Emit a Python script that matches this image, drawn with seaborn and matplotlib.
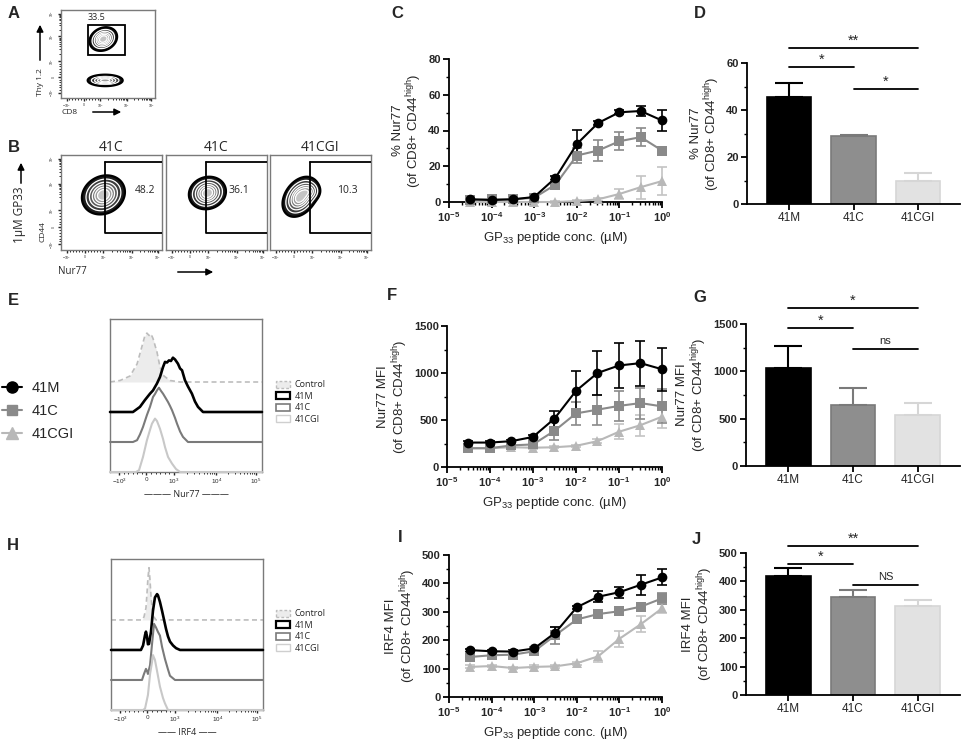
import numpy as np
import pandas as pd
import matplotlib
matplotlib.use("Agg")
from matplotlib import pyplot as plt
from matplotlib.lines import Line2D
from matplotlib.patches import Patch, Rectangle

import seaborn as sns

W, H = 963, 740

groups = ["41M", "41C", "41CGI"]
conc = [3.16e-5, 1e-4, 3.16e-4, 1e-3, 3.16e-3, 1e-2, 3.16e-2, 1e-1, 3.16e-1, 1.0]
decade_ticks = [1e-5, 1e-4, 1e-3, 1e-2, 1e-1, 1e0]
decade_labels = [r"$\mathbf{10^{-5}}$", r"$\mathbf{10^{-4}}$", r"$\mathbf{10^{-3}}$",
                 r"$\mathbf{10^{-2}}$", r"$\mathbf{10^{-1}}$", r"$\mathbf{10^{0}}$"]

# C: % Nur77 of CD8+ CD44high
pct_41m = [1.5, 1.1, 1.5, 2.8, 13.5, 32.4, 44.2, 50.2, 50.9, 45.6]
pct_41m_sd = [0.5, 0.5, 0.5, 0.8, 1.0, 8.0, 1.0, 1.0, 3.0, 6.0]
pct_41c = [1.3, 1.5, 1.5, 2.4, 9.7, 26.0, 28.8, 34.0, 36.3, 28.8]
pct_41c_sd = [0.5, 0.5, 0.5, 0.5, 1.5, 4.0, 6.0, 5.0, 5.0, 1.0]
pct_41cgi = [0, 0, 0, 0, 0, 0.5, 1.5, 4.5, 8.3, 11.7]
pct_41cgi_sd = [0.3, 0.3, 0.3, 0.3, 0.3, 0.5, 1.0, 3.0, 6.5, 8.0]

# F: Nur77 MFI
nur_41m = [260, 260, 275, 320, 515, 810, 1000, 1080, 1105, 1040]
nur_41m_sd = [15, 15, 15, 20, 85, 215, 235, 235, 240, 230]
nur_41c = [200, 200, 230, 240, 385, 570, 610, 650, 680, 645]
nur_41c_sd = [10, 10, 10, 15, 100, 125, 160, 160, 165, 180]
nur_41cgi = [200, 200, 210, 205, 210, 225, 275, 375, 445, 535]
nur_41cgi_sd = [10, 10, 10, 10, 10, 10, 20, 80, 110, 120]

# I: IRF4 MFI
irf_41m = [165, 161, 160, 171, 227, 316, 353, 369, 395, 421]
irf_41m_sd = [5, 5, 5, 5, 20, 5, 20, 20, 35, 28]
irf_41c = [141, 147, 149, 161, 218, 273, 292, 302, 318, 347]
irf_41c_sd = [5, 5, 5, 5, 30, 8, 8, 8, 10, 20]
irf_41cgi = [106, 109, 102, 106, 108, 119, 143, 205, 256, 312]
irf_41cgi_sd = [5, 5, 5, 5, 5, 5, 20, 28, 28, 15]

# bar panels D, G, J (mean, upper error)
bar_pct = [45.5, 28.8, 10.0]
bar_pct_err = [6.0, 0.4, 3.3]
bar_nur = [1035, 640, 535]
bar_nur_err = [235, 185, 130]
bar_irf = [418, 346, 315]
bar_irf_err = [30, 23, 20]

# significance brackets: (from, to, height, label)
sig_pct = [(0, 2, 66.5, "**"), (0, 1, 58.3, "*"), (1, 2, 49.0, "*")]
sig_nur = [(0, 2, 1670, "*"), (0, 1, 1458, "*"), (1, 2, 1235, "ns")]
sig_irf = [(0, 2, 526, "**"), (0, 1, 461, "*"), (1, 2, 387, "NS")]

# histogram traces (E: Nur77, H: IRF4), x on 0-100 display scale, height per lane
e_ctrl_x = [0, 6.6, 13.2, 17.8, 21.1, 23.0, 24.3, 25.7, 27.0, 28.3, 30.9, 32.9, 35.5, 39.5, 46.1, 100]
e_ctrl_h = [0, 0.05, 0.2, 0.6, 1.2, 1.55, 1.63, 1.55, 1.6, 1.45, 1.0, 0.5, 0.2, 0.05, 0, 0]
e_41m_x = [0, 15.1, 19.7, 23.0, 26.3, 28.3, 30.9, 32.9, 34.9, 36.2, 37.5, 38.8, 40.1, 41.4,
           42.8, 44.7, 46.1, 47.4, 49.3, 51.3, 53.9, 55.9, 57.9, 61.2, 100]
e_41m_h = [0, 0, 0.17, 0.4, 0.61, 0.72, 0.95, 1.17, 1.5, 1.67, 1.65, 1.72, 1.7, 1.81,
           1.75, 1.61, 1.45, 1.39, 1.06, 0.85, 0.61, 0.35, 0.17, 0, 0]
e_41c_x = [0, 15.1, 17.8, 19.7, 21.7, 24.3, 26.3, 28.3, 29.6, 30.9, 32.2, 33.6, 34.9, 36.2,
           38.2, 39.5, 40.8, 42.8, 44.1, 46.1, 48.0, 51.3, 100]
e_41c_h = [0, 0, 0.06, 0.25, 0.5, 0.9, 1.17, 1.5, 1.6, 1.72, 1.81, 1.7, 1.61, 1.5,
           1.33, 1.2, 1.06, 0.8, 0.61, 0.35, 0.17, 0, 0]
e_41cgi_x = [0, 17.1, 19.1, 21.7, 24.3, 26.3, 27.6, 29.6, 30.9, 32.9, 34.9, 36.2, 38.2, 40.8, 43.4, 46.1, 100]
e_41cgi_h = [0, 0, 0.06, 0.5, 1.06, 1.4, 1.61, 1.78, 1.7, 1.44, 1.1, 0.83, 0.5, 0.28, 0.1, 0, 0]

h_ctrl_x = [0, 20.4, 21.7, 23.0, 23.7, 24.3, 25.0, 25.7, 26.3, 27.0, 28.3, 29.6, 100]
h_ctrl_h = [0, 0, 0.1, 0.4, 0.9, 1.4, 1.74, 1.3, 0.8, 0.4, 0.1, 0, 0]
h_41m_x = [0, 19.7, 21.1, 22.4, 23.0, 23.7, 24.3, 25.0, 26.3, 27.6, 28.9, 30.3, 30.9, 32.2,
           33.6, 34.9, 36.2, 37.5, 38.8, 40.8, 42.8, 45.4, 100]
h_41m_h = [0, 0, 0.15, 0.5, 0.61, 0.45, 0.19, 0.2, 0.6, 1.3, 1.75, 1.86, 1.82, 1.6,
           1.3, 1.0, 0.7, 0.45, 0.28, 0.15, 0.06, 0, 0]
h_41c_x = [0, 20.4, 21.7, 23.0, 23.7, 24.3, 25.7, 27.0, 28.3, 29.6, 30.9, 32.2, 33.6, 35.5, 37.5, 38.8, 42.1, 100]
h_41c_h = [0, 0, 0.2, 0.37, 0.3, 0.2, 0.5, 1.2, 1.87, 1.75, 1.6, 1.48, 1.1, 0.7, 0.35, 0.14, 0, 0]
h_41cgi_x = [0, 21.1, 22.4, 24.3, 25.7, 27.0, 27.6, 28.9, 30.3, 32.2, 34.2, 35.5, 37.5, 100]
h_41cgi_h = [0, 0, 0.05, 0.5, 1.2, 1.6, 1.83, 1.67, 1.3, 0.78, 0.4, 0.22, 0, 0]

flow_tick_pos = [6, 24, 42, 70, 96]
flow_tick_labels = [r"$-10^3$", "0", r"$10^3$", r"$10^4$", r"$10^5$"]

# contour populations: centre x, centre y, sd x, sd y, correlation, weight
pops_a = [(45, 67, 6.0, 5.5, 0.2, 1.0), (47, 20, 8.0, 2.8, 0.0, 0.75)]
pops_b = [
    [(42, 58, 8.7, 8.4, 0.15, 1.0)],
    [(41, 60, 7.5, 7.0, 0.1, 1.0)],
    [(30, 56, 7.2, 8.6, 0.35, 1.0), (40, 62, 4.5, 4.5, 0.0, 0.3)],
]
b_titles = ["41C", "41C", "41CGI"]
b_gate_x = [44, 40, 40]
b_gate_pct = ["48.2", "36.1", "10.3"]
b_pct_x = [73, 62, 66]

line_colors = {"41M": "#000000", "41C": "#8a8a8a", "41CGI": "#b8b8b8"}
err_colors = {"41M": "#000000", "41C": "#8a8a8a", "41CGI": "#c4c4c4"}
bar_face = ["#000000", "#8e8e8e", "#e2e2e2"]
bar_edge = ["#000000", "#7a7a7a", "#d6d6d6"]
hist_colors = {"41M": "#000000", "41C": "#7a7a7a", "41CGI": "#c8c8c8"}

sns.set_style("ticks")
plt.rcParams["font.family"] = ["Liberation Sans", "DejaVu Sans"]
plt.rcParams["mathtext.fontset"] = "custom"
plt.rcParams["mathtext.rm"] = "Liberation Sans"
plt.rcParams["mathtext.it"] = "Liberation Sans:italic"
plt.rcParams["mathtext.bf"] = "Liberation Sans:bold"

FLOW_FONT = ["Open Sans", "DejaVu Sans"]

fig = plt.figure(figsize=(W / 100, H / 100), dpi=100)


def px_axes(left, top, right, bottom):
    return fig.add_axes([left / W, 1 - bottom / H, (right - left) / W, (bottom - top) / H])


def ftext(x, y, s, **kw):
    return fig.text(x / W, 1 - y / H, s, **kw)


def farrow(x0, y0, x1, y1):
    fig.add_artist(matplotlib.patches.FancyArrowPatch(
        (x0 / W, 1 - y0 / H), (x1 / W, 1 - y1 / H), transform=fig.transFigure,
        arrowstyle="-|>,head_length=4,head_width=2", lw=1.1, color="black"))


def prism_style(ax):
    sns.despine(ax=ax)
    for s in ["left", "bottom"]:
        ax.spines[s].set_linewidth(1.3)
        ax.spines[s].set_color("black")
    ax.tick_params(axis="both", which="major", direction="out", length=4, width=1.3,
                   labelsize=8, color="black", pad=2)
    ax.tick_params(axis="both", which="minor", direction="out", length=2.5, width=1.0, color="black")
    ax.set_facecolor("white")


def bold_ticks(ax):
    for lab in ax.get_yticklabels():
        lab.set_fontweight("bold")


def dose_panel(ax, means, sds, ymax, ystep, yminor, ylabel):
    rows = []
    for g in groups:
        for c, v in zip(conc, means[g]):
            rows.append({"conc": c, "value": v, "group": g})
    df = pd.DataFrame(rows)
    ax.set_xscale("log")
    for g in reversed(groups):
        ax.errorbar(conc, means[g], yerr=sds[g], fmt="none", ecolor=err_colors[g],
                    elinewidth=1.2, capsize=3.5, capthick=1.2, zorder=2, clip_on=False)
    sns.lineplot(data=df, x="conc", y="value", hue="group", style="group",
                 hue_order=groups[::-1], style_order=groups[::-1],
                 markers={"41M": "o", "41C": "s", "41CGI": "^"}, dashes=False,
                 palette=line_colors, markersize=7, markeredgewidth=0, lw=1.5,
                 errorbar=None, legend=False, ax=ax, zorder=3)
    for ln in ax.lines:
        ln.set_clip_on(False)
    ax.set_xlim(1e-5, 1)
    ax.set_ylim(0, ymax)
    prism_style(ax)
    ax.set_xticks(decade_ticks)
    ax.set_xticklabels(decade_labels)
    ax.xaxis.set_minor_locator(matplotlib.ticker.LogLocator(base=10, subs=np.arange(2, 10), numticks=20))
    ax.xaxis.set_minor_formatter(matplotlib.ticker.NullFormatter())
    ax.set_yticks(np.arange(0, ymax + 1, ystep))
    ax.set_yticks(yminor, minor=True)
    bold_ticks(ax)
    ax.set_xlabel(r"GP$_{33}$ peptide conc. (µM)", fontsize=9.5, labelpad=4)
    ax.set_ylabel(ylabel, fontsize=9.5, labelpad=3, linespacing=1.05)


def bar_panel(ax, vals, errs, ymax, ystep, yminor, ylabel, sigs):
    df = pd.DataFrame({"group": groups, "value": vals})
    sns.barplot(data=df, x="group", y="value", hue="group", palette=dict(zip(groups, bar_face)),
                width=0.69, legend=False, ax=ax, linewidth=1.2)
    for p, ec in zip(ax.patches, bar_edge):
        p.set_edgecolor(ec)
    for i, (v, e) in enumerate(zip(vals, errs)):
        ax.errorbar(i, v, yerr=[[0], [e]], fmt="none", ecolor=bar_edge[i] if i else "black",
                    elinewidth=1.5, capsize=10, capthick=1.5, zorder=1)
    ax.set_xlim(-0.65, 2.65)
    ax.set_ylim(0, ymax)
    prism_style(ax)
    ax.set_yticks(np.arange(0, ymax + 1, ystep))
    ax.set_yticks(yminor, minor=True)
    bold_ticks(ax)
    ax.set_xlabel("")
    ax.tick_params(axis="x", labelsize=8.5)
    ax.set_ylabel(ylabel, fontsize=9.5, labelpad=3, linespacing=1.05)
    for i, j, y, lab in sigs:
        ax.plot([i, j], [y, y], color="black", lw=1.3, clip_on=False)
        star = lab.startswith("*")
        ax.text((i + j) / 2, y + ymax * (0.0 if star else 0.025), lab, ha="center", va="bottom",
                fontsize=10.5 if star else 8, clip_on=False)


def flow_ticks(ax, left=True, labelsize=2.5):
    minor = []
    for a, b in zip(flow_tick_pos[2:-1], flow_tick_pos[3:]):
        minor += [a + (b - a) * np.log10(k) for k in range(2, 10)]
    minor += list(np.linspace(flow_tick_pos[0], flow_tick_pos[2], 13))
    ax.set_xticks(flow_tick_pos)
    ax.set_xticklabels(flow_tick_labels, fontsize=labelsize, family=FLOW_FONT)
    ax.set_xticks(minor, minor=True)
    if left:
        ax.set_yticks(flow_tick_pos)
        ax.set_yticklabels(flow_tick_labels, fontsize=labelsize, family=FLOW_FONT, rotation=90,
                           va="center")
        ax.set_yticks(minor, minor=True)
    else:
        ax.set_yticks([])
    ax.tick_params(which="major", direction="out", length=2.5, width=1.0, pad=1)
    ax.tick_params(which="minor", direction="out", length=1.5, width=0.7)
    for s in ax.spines.values():
        s.set_color("#7a7a7a")
        s.set_linewidth(1.0)


def contour_panel(ax, pops):
    gx, gy = np.meshgrid(np.linspace(0, 100, 300), np.linspace(0, 100, 300))
    z = np.zeros_like(gx)
    for cx, cy, sx, sy, rho, w in pops:
        dx, dy = (gx - cx) / sx, (gy - cy) / sy
        z += w * np.exp(-(dx ** 2 - 2 * rho * dx * dy + dy ** 2) / (2 * (1 - rho ** 2)))
    levels = [0.05, 0.14, 0.28, 0.45, 0.62, 0.8, 1.2]
    shades = ["#1c1c1c", "#3c3c3c", "#5c5c5c", "#7c7c7c", "#9c9c9c", "#c4c4c4"]
    ax.contourf(gx, gy, z, levels=levels, colors=shades, zorder=1)
    ax.contour(gx, gy, z, levels=levels[1:-1], colors="white", linewidths=0.9, zorder=2)
    ax.contour(gx, gy, z, levels=[levels[0]], colors="black", linewidths=1.6, zorder=3)
    ax.set_xlim(0, 100)
    ax.set_ylim(0, 100)


# ---------------- A ----------------
ax_a = px_axes(61, 10, 155, 98)
contour_panel(ax_a, pops_a)
ax_a.add_patch(Rectangle((29, 49), 39, 34, fill=False, lw=1.3, ec="black", zorder=4))
ax_a.text(38, 86, "33.5", fontsize=6.5, family=FLOW_FONT, ha="center", va="bottom")
flow_ticks(ax_a)
ftext(40, 82, "Thy 1.2", rotation=90, fontsize=6, family=FLOW_FONT, ha="center", va="center")
farrow(40, 63, 40, 22)
ftext(70, 112, "CD8", fontsize=6, family=FLOW_FONT, ha="center", va="center")
farrow(90, 112, 124, 112)

# ---------------- B ----------------
b_boxes = [(61, 162), (166, 267), (270, 371)]
for k, (l, r) in enumerate(b_boxes):
    ax_b = px_axes(l, 155, r, 250)
    contour_panel(ax_b, pops_b[k])
    ax_b.plot([b_gate_x[k], b_gate_x[k], 100], [93, 18, 18], color="black", lw=1.3, zorder=4)
    ax_b.plot([b_gate_x[k], 100], [93, 93], color="black", lw=1.3, zorder=4)
    ax_b.text(b_pct_x[k], 63, b_gate_pct[k], fontsize=7.5, family=FLOW_FONT,
              ha="left", va="center", zorder=5)
    flow_ticks(ax_b, left=(k == 0))
    ax_b.set_title(b_titles[k], fontsize=10, family=FLOW_FONT, pad=3)
ftext(19, 215, "1µM GP33", rotation=90, fontsize=8.5, family=FLOW_FONT, ha="center", va="center")
farrow(21, 186, 21, 160)
ftext(43, 232, "CD44", rotation=90, fontsize=6, family=FLOW_FONT, ha="center", va="center")
ftext(72, 272, "Nur77", fontsize=7, family=FLOW_FONT, ha="center", va="center")
farrow(175, 272, 216, 272)


# ---------------- histograms E / H ----------------
def hist_panel(ax, traces, ctrl, ymax, xlabel):
    cx, ch = ctrl
    ax.fill_between(cx, 3, 3 + np.array(ch), color="#ececec", lw=0, zorder=1)
    ax.plot(cx, 3 + np.array(ch), color="#bdbdbd", lw=1.2, ls=(0, (3, 2)), zorder=2)
    for lane, (g, (tx, th)) in zip([2, 1, 0], traces):
        lw = {"41M": 1.9, "41C": 1.5, "41CGI": 1.5}[g]
        ax.plot(tx, lane + np.array(th), color=hist_colors[g], lw=lw, zorder=3, clip_on=False)
    ax.set_xlim(0, 100)
    ax.set_ylim(0, ymax)
    flow_ticks(ax, left=False, labelsize=4.5)
    ax.set_xlabel(xlabel, fontsize=6.5, family=FLOW_FONT, labelpad=3)


ax_e = px_axes(110, 319, 262, 472)
hist_panel(ax_e, [("41M", (e_41m_x, e_41m_h)), ("41C", (e_41c_x, e_41c_h)),
                  ("41CGI", (e_41cgi_x, e_41cgi_h))], (e_ctrl_x, e_ctrl_h), 5.1,
           "——— Nur77 ———")
ax_h = px_axes(111, 559, 263, 710)
hist_panel(ax_h, [("41M", (h_41m_x, h_41m_h)), ("41C", (h_41c_x, h_41c_h)),
                  ("41CGI", (h_41cgi_x, h_41cgi_h))], (h_ctrl_x, h_ctrl_h), 5.03,
           "—— IRF4 ——")

patch_handles = [
    Patch(facecolor="#ececec", edgecolor="#bdbdbd", ls=(0, (2, 1.5)), lw=1.0),
    Patch(facecolor="white", edgecolor="black", lw=1.6),
    Patch(facecolor="white", edgecolor="#7a7a7a", lw=1.2),
    Patch(facecolor="white", edgecolor="#cfcfcf", lw=1.0),
]
for cy in [402, 631]:
    fig.legend(patch_handles, ["Control"] + groups, loc="center left",
               bbox_to_anchor=(276 / W, 1 - cy / H), frameon=False,
               prop={"family": FLOW_FONT, "size": 6.5}, handlelength=1.6, handleheight=0.8,
               handletextpad=0.45, labelspacing=0.28, borderpad=0, borderaxespad=0)

marker_handles = [
    Line2D([], [], color="black", marker="o", ms=8, lw=1.5),
    Line2D([], [], color="#8a8a8a", marker="s", ms=7, lw=1.5),
    Line2D([], [], color="#b8b8b8", marker="^", ms=8, lw=1.5),
]
fig.legend(marker_handles, groups, loc="center left", bbox_to_anchor=(2 / W, 1 - 411 / H),
           frameon=False, fontsize=10.5, handlelength=1.35, handletextpad=0.7,
           labelspacing=0.62, borderpad=0, borderaxespad=0)

# ---------------- dose response C / F / I ----------------
ax_c = px_axes(449, 59, 662, 202)
dose_panel(ax_c, {"41M": pct_41m, "41C": pct_41c, "41CGI": pct_41cgi},
           {"41M": pct_41m_sd, "41C": pct_41c_sd, "41CGI": pct_41cgi_sd},
           80, 20, [10, 30, 50, 70], "% Nur77\n(of CD8+ CD44$^{\\mathrm{high}}$)")
ax_f = px_axes(447, 326, 662, 467)
dose_panel(ax_f, {"41M": nur_41m, "41C": nur_41c, "41CGI": nur_41cgi},
           {"41M": nur_41m_sd, "41C": nur_41c_sd, "41CGI": nur_41cgi_sd},
           1500, 500, [250, 750, 1250], "Nur77 MFI\n(of CD8+ CD44$^{\\mathrm{high}}$)")
ax_i = px_axes(449, 555, 662, 697)
dose_panel(ax_i, {"41M": irf_41m, "41C": irf_41c, "41CGI": irf_41cgi},
           {"41M": irf_41m_sd, "41C": irf_41c_sd, "41CGI": irf_41cgi_sd},
           500, 100, np.arange(50, 500, 100), "IRF4 MFI\n(of CD8+ CD44$^{\\mathrm{high}}$)")

# ---------------- bars D / G / J ----------------
ax_d = px_axes(747, 63, 960, 204)
bar_panel(ax_d, bar_pct, bar_pct_err, 60, 20, [10, 30, 50],
          "% Nur77\n(of CD8+ CD44$^{\\mathrm{high}}$)", sig_pct)
ax_g = px_axes(746, 324, 960, 466)
bar_panel(ax_g, bar_nur, bar_nur_err, 1500, 500, [250, 750, 1250],
          "Nur77 MFI\n(of CD8+ CD44$^{\\mathrm{high}}$)", sig_nur)
ax_j = px_axes(746, 553, 960, 695)
bar_panel(ax_j, bar_irf, bar_irf_err, 500, 100, np.arange(50, 500, 100),
          "IRF4 MFI\n(of CD8+ CD44$^{\\mathrm{high}}$)", sig_irf)

# ---------------- panel letters ----------------
for lab, x, y in [("A", 8, 14), ("B", 8, 148), ("C", 391, 13), ("D", 694, 13),
                  ("E", 8, 301), ("F", 387, 296), ("G", 693, 298),
                  ("H", 7, 545), ("I", 398, 538), ("J", 692, 539)]:
    ftext(x, y, lab, fontsize=12, fontweight="bold", ha="left", va="center")

fig.savefig("out.png", dpi=100, facecolor="white")
